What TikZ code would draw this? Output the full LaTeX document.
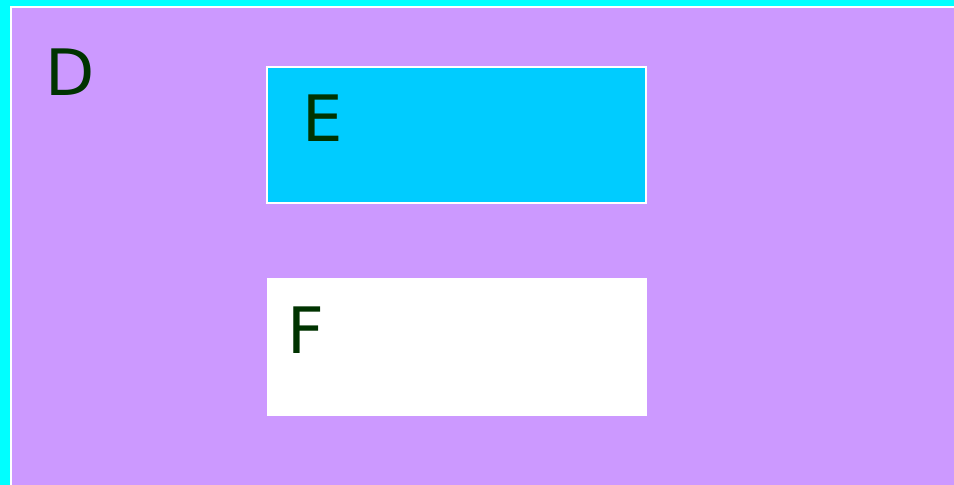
\documentclass[tikz,border=0pt]{standalone}
\usepackage{fontspec}
\setmainfont{DejaVu Sans}
\definecolor{bgcyan}{HTML}{00FFFF}
\definecolor{lilac}{HTML}{CC99FF}
\definecolor{skyb}{HTML}{00CCFF}
\definecolor{dkgreen}{HTML}{003300}
\begin{document}
\begin{tikzpicture}[x=1pt,y=-1pt,
  lbl/.style={inner sep=0pt,anchor=base west,text=dkgreen,font=\fontsize{64}{64}\selectfont},
  panel/.style={draw=white,line width=1.2pt}]
\useasboundingbox (0,0) rectangle (954,485);
\fill[bgcyan] (0,0) rectangle (954,485);
\draw[panel,fill=lilac] (11,7) rectangle (970,500);
\draw[panel,fill=skyb] (267,67) rectangle (646,203);
\draw[panel,line width=0.6pt,fill=white] (267,278) rectangle (646,415);
\node[lbl] (D) at (45.5,95) {D};
\node[lbl] (E) at (302.5,141) {E};
\node[lbl] (F) at (287.5,353) {F};
\end{tikzpicture}
\end{document}
